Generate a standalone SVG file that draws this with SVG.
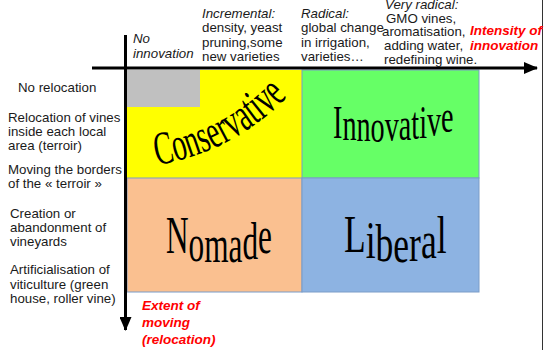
<svg xmlns="http://www.w3.org/2000/svg" width="544" height="350" viewBox="0 0 544 350">
<style>
.t{font-family:"Liberation Sans",Arial,sans-serif;font-size:13.3px;fill:#1a1a1a}
.i{font-style:italic}
.r{font-family:"Liberation Sans",Arial,sans-serif;font-size:13.5px;font-weight:bold;font-style:italic;fill:#ff0000}
.w{font-family:"Liberation Serif","Times New Roman",serif;fill:#000}
.q{stroke:#7a9cc8;stroke-width:1}
</style>
<defs>
<marker id="ah" viewBox="0 0 14 12" refX="13" refY="6" markerWidth="14" markerHeight="12" markerUnits="userSpaceOnUse" orient="auto">
<path d="M0,0 L14,6 L0,12 z" fill="#000"/>
</marker>
<path id="pc" d="M157 165 Q235 152 291 93"/>
</defs>
<rect x="0" y="0" width="544" height="350" fill="#fff"/>
<line x1="542.5" y1="0" x2="542.5" y2="350" stroke="#333" stroke-width="1"/>

<g id="quadrants">
<g id="conservative">
<rect x="127" y="70" width="175" height="108" fill="#ffff00"/>
<rect x="127" y="70" width="73" height="37" fill="#c0c0c0"/>
<text class="w" font-size="47" textLength="150" lengthAdjust="spacingAndGlyphs"><textPath href="#pc" textLength="150" lengthAdjust="spacingAndGlyphs">Conservative</textPath></text>
</g>
<g id="innovative">
<rect x="302" y="70" width="177" height="108" fill="#66ff66" class="q"/>
<text class="w" font-size="47" transform="translate(333,0) scale(0.6,1)" x="0" y="138 140 141 142 141 140 139 138 136 132">Innovative</text>
</g>
<g id="nomade">
<rect x="127" y="178" width="175" height="114" fill="#fac090" class="q"/>
<text class="w" font-size="53" transform="translate(166,0) scale(0.59,1)" x="0" y="253 261 262 262 259 253">Nomade</text>
</g>
<g id="liberal">
<rect x="302" y="178" width="177" height="114" fill="#8db3e2" class="q"/>
<text class="w" font-size="53" transform="translate(344,0) scale(0.67,1)" x="0" y="252 258 261 262 261 258 253">Liberal</text>
</g>
</g>

<g id="connectors">
<line x1="92" y1="68" x2="537" y2="68" stroke="#000" stroke-width="3" marker-end="url(#ah)"/>
<line x1="125.5" y1="35" x2="125.5" y2="330" stroke="#000" stroke-width="3" marker-end="url(#ah)"/>
</g>

<g id="top-labels">
<text class="t i" x="133" y="43">No</text>
<text class="t i" x="133" y="58">innovation</text>
<text class="t i" x="202" y="18">Incremental:</text>
<text class="t" x="202" y="32">density, yeast</text>
<text class="t" x="202" y="46.5">pruning,some</text>
<text class="t" x="202" y="61">new varieties</text>
<text class="t i" x="301" y="18">Radical:</text>
<text class="t" x="301" y="32">global change</text>
<text class="t" x="301" y="46.5">in irrigation,</text>
<text class="t" x="301" y="61">varieties…</text>
<text class="t i" x="385" y="9">Very radical:</text>
<text class="t" x="386" y="22.5">GMO vines,</text>
<text class="t" x="382" y="36">aromatisation,</text>
<text class="t" x="384" y="50">adding water,</text>
<text class="t" x="384" y="64">redefining wine.</text>
<text class="r" x="470" y="35">Intensity of</text>
<text class="r" x="470" y="50">innovation</text>
</g>

<g id="left-labels">
<text class="t" x="18" y="92">No relocation</text>
<text class="t" x="8" y="122">Relocation of vines</text>
<text class="t" x="8" y="136">inside each local</text>
<text class="t" x="8" y="150">area (terroir)</text>
<text class="t" x="8" y="174">Moving the borders</text>
<text class="t" x="8" y="188">of the « terroir »</text>
<text class="t" x="10" y="218">Creation or</text>
<text class="t" x="10" y="232">abandonment of</text>
<text class="t" x="10" y="246">vineyards</text>
<text class="t" x="10" y="274">Artificialisation of</text>
<text class="t" x="10" y="288.5">viticulture (green</text>
<text class="t" x="10" y="303">house, roller vine)</text>
<text class="r" x="142" y="310">Extent of</text>
<text class="r" x="142" y="327">moving</text>
<text class="r" x="142" y="344">(relocation)</text>
</g>
</svg>
